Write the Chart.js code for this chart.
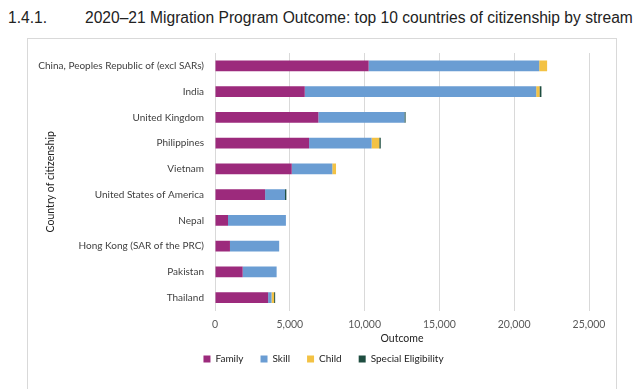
<!DOCTYPE html>
<html>
<head>
<meta charset="utf-8">
<script src="https://cdn.jsdelivr.net/npm/chart.js@4"></script>
<style>
    body { margin: 0; background: #fff; width: 641px; height: 389px; overflow: hidden; position: relative; }
    #title { position: absolute; top: 9px; left: 8px; font-family: "Liberation Sans", Arial, sans-serif; font-size: 15.6px; color: #222; white-space: nowrap; }
    #title .num { display: inline-block; width: 77px; }
    #box { position: absolute; left: 27px; top: 38px; width: 590px; height: 360px; border: 1px solid #d9d9d9; box-sizing: border-box; }
    #wrap { position: absolute; left: 0; top: 0; width: 588px; height: 351px; }
</style>
</head>
<body>
<div id="title"><span class="num">1.4.1.</span>2020–21 Migration Program Outcome: top 10 countries of citizenship by stream</div>
<div id="box"><div id="wrap"><canvas id="chart"></canvas></div></div>
<script>
// countries, top to bottom
const countries = [
    "China, Peoples Republic of (excl SARs)", "India", "United Kingdom", "Philippines", "Vietnam",
    "United States of America", "Nepal", "Hong Kong (SAR of the PRC)", "Pakistan", "Thailand"
];

// outcome by stream
const family  = [10270, 6000, 6910, 6290, 5130, 3350, 870, 1000, 1850, 3550];
const skill   = [11400, 15470, 5750, 4180, 2710, 1330, 3870, 3290, 2270, 230];
const child   = [530, 220, 0, 510, 250, 0, 0, 0, 0, 170];
const special = [0, 130, 80, 100, 0, 90, 0, 0, 0, 70];

const xTicks = [0, 5000, 10000, 15000, 20000, 25000];

const fontFamily = "Lato, 'Open Sans', sans-serif";

// legend is centred on the whole box in the original, not on the plot side
const legendShift = {
    id: "legendShift",
    afterLayout(chart) {
        const lg = chart.legend;
        lg.left += 15;
        lg.right += 15;
    }
};

const ctx = document.getElementById("chart").getContext("2d");
const chart = new Chart(ctx, {
    type: "bar",
    data: {
        labels: countries,
        datasets: [
            { label: "Family", data: family, backgroundColor: "#9c2a7c" },
            { label: "Skill", data: skill, backgroundColor: "#6a9dd3" },
            { label: "Child", data: child, backgroundColor: "#f3c244" },
            { label: "Special Eligibility", data: special, backgroundColor: "#1e4d40" }
        ]
    },
    options: {
        indexAxis: "y",
        responsive: true,
        maintainAspectRatio: false,
        animation: false,
        layout: { padding: { left: 0, right: 27, top: 14, bottom: 16 } },
        datasets: { bar: { barPercentage: 0.42, categoryPercentage: 1.0 } },
        scales: {
            x: {
                stacked: true,
                min: 0,
                max: 25000,
                afterBuildTicks: axis => { axis.ticks = xTicks.map(v => ({ value: v })); },
                grid: { color: "#d9d9d9", drawTicks: false },
                border: { display: false },
                ticks: {
                    padding: 9,
                    color: "#595959",
                    font: { family: fontFamily, size: 10.5, lineHeight: 1.0 },
                    callback: v => v.toLocaleString("en-US")
                },
                title: {
                    display: true,
                    text: "Outcome",
                    color: "#222",
                    font: { family: fontFamily, size: 10.5, lineHeight: 1.0 },
                    padding: { top: -5.5, bottom: -7 }
                }
            },
            y: {
                stacked: true,
                afterFit: axis => { axis.width = 187; },
                grid: { display: false },
                border: { display: true, color: "#d9d9d9" },
                ticks: {
                    color: "#404040",
                    padding: 3,
                    font: { family: fontFamily, size: 10 }
                },
                title: {
                    display: true,
                    text: "Country of citizenship",
                    color: "#222",
                    font: { family: fontFamily, size: 10.5 },
                    padding: { top: 16, bottom: 4 }
                }
            }
        },
        plugins: {
            legend: {
                position: "bottom",
                labels: {
                    boxWidth: 7,
                    boxHeight: 7,
                    padding: 17,
                    color: "#222",
                    font: { family: fontFamily, size: 10 }
                }
            },
            tooltip: { enabled: false }
        }
    },
    plugins: [legendShift]
});
</script>
</body>
</html>
